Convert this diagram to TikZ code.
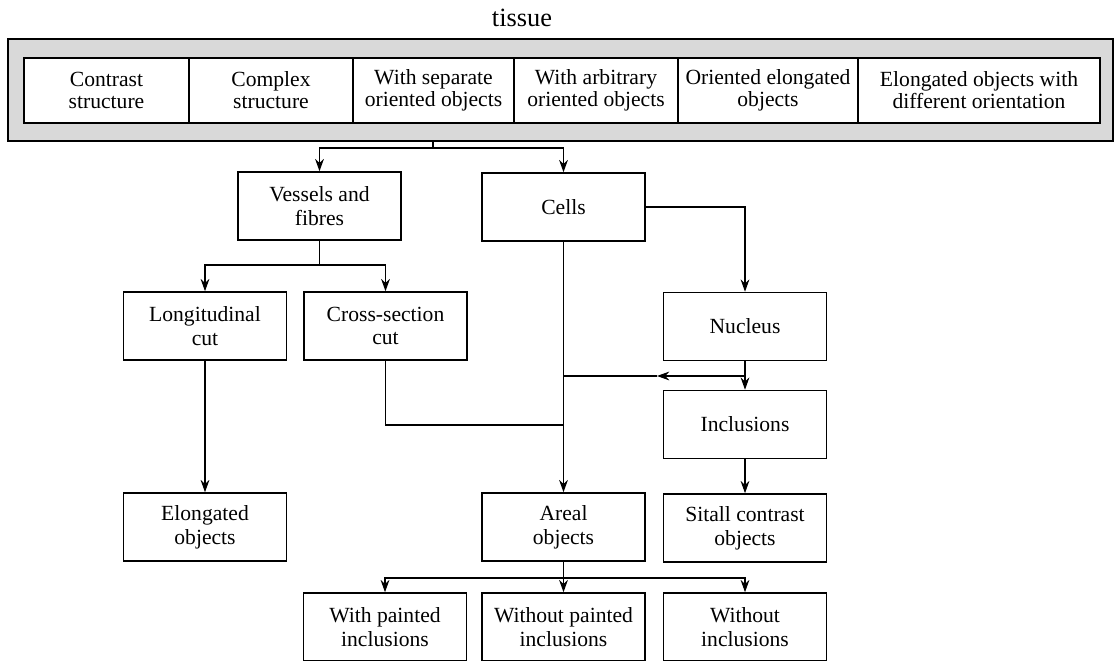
\documentclass[tikz,border=0pt]{standalone}
\usepackage{fontspec}
\setmainfont{Liberation Serif}
\usetikzlibrary{arrows.meta}

\tikzset{
  blk/.style={draw, line width=0.9pt, fill=white, minimum width=3.26cm, minimum height=1.36cm,
    align=center, inner sep=2pt, font=\fontsize{12.3}{13.5}\selectfont},
  topcell/.style={draw, line width=0.9pt, fill=white, minimum height=1.3cm,
    align=center, inner sep=1pt, font=\fontsize{12.3}{12.5}\selectfont},
  link/.style={line width=0.6pt},
  arr/.style={link, -{Stealth[length=7pt,width=5pt]}}
}

\begin{document}
\begin{tikzpicture}[x=0.02cm,y=-0.02cm]
\useasboundingbox (0,0) rectangle (1115,661);

% top frame
\node[font=\fontsize{15}{16}\selectfont] (tissuelbl) at (522,18) {tissue};
\node[draw, line width=1pt, fill=gray!30, minimum width=22.1cm, minimum height=2.04cm, inner sep=0pt] (frame) at (560.5,90) {};

\node[topcell, minimum width=3.3cm]  (contrast) at (106.5,90.5) {Contrast\\structure};
\node[topcell, minimum width=3.28cm] (complex)  at (271,90.5)   {Complex\\structure};
\node[topcell, minimum width=3.22cm] (separate) at (433.5,90.5) {With separate\\oriented objects};
\node[topcell, minimum width=3.28cm] (arbitr)   at (596,90.5)   {With arbitrary\\oriented objects};
\node[topcell, minimum width=3.6cm]  (orient)   at (768,90.5)   {Oriented elongated\\objects};
\node[topcell, minimum width=4.84cm] (diffor)   at (979,90.5)   {Elongated objects with\\different orientation};

% boxes
\node[blk] (vessels) at (319.5,206) {Vessels and\\fibres};
\node[blk] (cells)   at (563.5,207) {Cells};
\node[blk] (long)    at (205,326)   {Longitudinal\\cut};
\node[blk] (cross)   at (385.5,326) {Cross-section\\cut};
\node[blk] (nucleus) at (745,326.5) {Nucleus};
\node[blk] (incl)    at (745,424.5) {Inclusions};
\node[blk] (elong)   at (205,527)   {Elongated\\objects};
\node[blk] (areal)   at (563.5,527) {Areal\\objects};
\node[blk] (sitall)  at (745,528)   {Sitall contrast\\objects};
\node[blk] (painted)   at (385,627)   {With painted\\inclusions};
\node[blk] (nopainted) at (563.5,627) {Without painted\\inclusions};
\node[blk] (noincl)    at (745,627)   {Without\\inclusions};

% junctions
\coordinate (split1) at (433,148);
\coordinate (split2) at (319.5,265);
\coordinate (nucjoin) at (745,376);
\coordinate (midtip) at (657,376);
\coordinate (celljoin) at (563.5,376);
\coordinate (crossjoin) at (563.5,425);
\coordinate (split3) at (563.5,578);

% connectors
\draw[link] (frame.south -| split1) -- (split1);
\draw[arr] (split1) -| (vessels.north);
\draw[arr] (split1) -| (cells.north);

\draw[link] (vessels.south) -- (split2);
\draw[arr] (split2) -| (long.north);
\draw[arr] (split2) -| (cross.north);

\draw[arr] (cells.east) -| (nucleus.north);
\draw[arr] (cells.south) -- (areal.north);
\draw[arr] (nucleus.south) -- (incl.north);
\draw[arr] (nucjoin) -- (midtip);
\draw[link] (midtip) -- (celljoin);
\draw[link] (cross.south) |- (crossjoin);

\draw[arr] (long.south) -- (elong.north);
\draw[arr] (incl.south) -- (sitall.north);

\draw[link] (areal.south) -- (split3);
\draw[arr] (split3) -| (painted.north);
\draw[arr] (split3) -- (nopainted.north);
\draw[arr] (split3) -| (noincl.north);

\end{tikzpicture}
\end{document}
